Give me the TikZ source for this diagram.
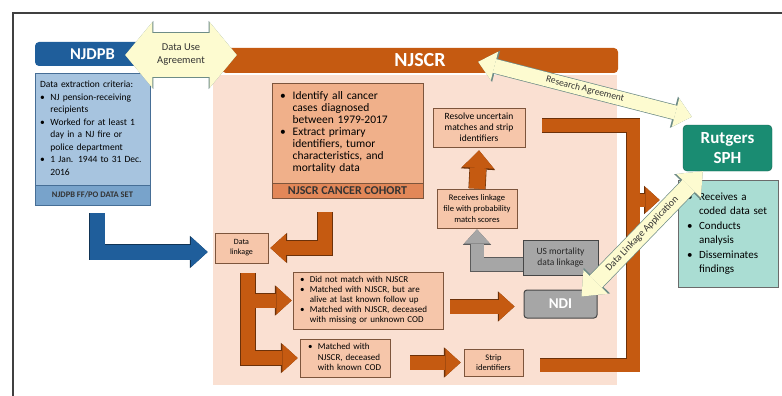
\documentclass[tikz,border=0pt]{standalone}
\usepackage{fontspec}
\setmainfont{Carlito}
\usetikzlibrary{arrows.meta,calc}

\definecolor{scrorange}{RGB}{197,90,17}
\definecolor{scrpink}{RGB}{250,224,210}
\definecolor{boxsalmon}{RGB}{246,198,170}
\definecolor{cohortfill}{RGB}{240,176,138}
\definecolor{cohortband}{RGB}{226,135,88}
\definecolor{boxedge}{RGB}{125,85,60}
\definecolor{dpbblue}{RGB}{31,94,155}
\definecolor{dpbfill}{RGB}{167,196,223}
\definecolor{dpbband}{RGB}{120,163,203}
\definecolor{dpbedge}{RGB}{70,110,150}
\definecolor{ndigray}{RGB}{166,166,166}
\definecolor{grayedge}{RGB}{70,70,70}
\definecolor{sphteal}{RGB}{26,140,114}
\definecolor{sphfill}{RGB}{170,221,211}
\definecolor{agreefill}{RGB}{253,251,208}
\definecolor{agreeedge}{RGB}{110,140,135}

\newcommand{\bul}{\makebox[1.1em][l]{\textbullet}}
\newcommand{\blist}[1]{\begin{tabular}{@{}l@{}l@{}}#1\end{tabular}}

\tikzset{
  regionbox/.style={draw=boxedge, line width=0.7pt, inner sep=0pt},
  stepnote/.style={regionbox, fill=boxsalmon, align=center},
  graynote/.style={draw=grayedge, fill=ndigray, line width=1pt, align=center, inner sep=0pt},
  fatarrow/.style 2 args={draw=#2, line width=#1, line join=miter,
    -{Triangle[length=0pt 1.1, width=0pt 2, line width=0pt]},
    preaction={draw=#2!55!black, line width=#1+1.2pt,
      -{Triangle[length=0pt 1.1, width=0pt 2, line width=0pt]}}},
  fatline/.style={draw=scrorange, line width=#1, line join=miter,
    preaction={draw=scrorange!55!black, line width=#1+1.2pt}},
  agree/.style n args={3}{draw=agreefill, line width=#1,
    {Triangle[length=0pt #2, width=0pt #3, line width=0pt]}-{Triangle[length=0pt #2, width=0pt #3, line width=0pt]},
    preaction={draw=agreeedge, line width=#1+1.4pt,
      {Triangle[length=0pt #2, width=0pt #3, line width=0pt]}-{Triangle[length=0pt #2, width=0pt #3, line width=0pt]}}},
}

\begin{document}
\begin{tikzpicture}[x=1pt, y=-1pt]
\useasboundingbox (0,0) rectangle (782,396);
\draw[line width=1.2pt, black!75] (13,396) -- (13,13) -- (782,13);

% registry area
\node[fill=scrpink, minimum width=404pt, minimum height=310pt, inner sep=0pt] (scrarea) at (415,230) {};
\node[fill=scrorange, rounded corners=4pt, minimum width=396pt, minimum height=25pt, inner sep=0pt,
  text=white, font=\bfseries\fontsize{20}{20}\selectfont] (njscr) at (420,60.5) {NJSCR};

% pension board
\node[fill=dpbblue, rounded corners=4pt, minimum width=115pt, minimum height=24pt, inner sep=0pt,
  text=white, font=\bfseries\fontsize{16.5}{17}\selectfont] (njdpb) at (92.5,54) {NJDPB};
\node[draw=dpbedge, fill=dpbfill, minimum width=115pt, minimum height=112pt, inner xsep=5pt, inner ysep=0pt,
  text width=105pt, align=left, font=\fontsize{9.5}{12.5}\selectfont] (criteria) at (92.5,129)
  {\blist{\multicolumn{2}{@{}l@{}}{Data extraction criteria:}\\ \bul & NJ pension-receiving\\ & recipients\\
   \bul & Worked for at least 1\\ & day in a NJ fire or\\ & police department\\ \bul & 1 Jan. 1944 to 31 Dec.\\ & 2016}};
\node[draw=dpbedge, fill=dpbband, minimum width=115pt, minimum height=20pt, inner sep=0pt,
  font=\bfseries\fontsize{8.5}{9}\selectfont, text=black!80] (dataset) at (92.5,195) {NJDPB FF/PO DATA SET};

% cohort
\node[regionbox, fill=cohortfill, minimum width=151pt, minimum height=100pt, inner xsep=8pt,
  text width=135pt, align=left, font=\fontsize{11.5}{12}\selectfont] (cohort) at (347.5,133)
  {\blist{\bul & Identify all cancer\\ & cases diagnosed\\ & between 1979-2017\\ \bul & Extract primary\\
   & identifiers, tumor\\ & characteristics, and\\ & mortality data}};
\node[regionbox, fill=cohortband, minimum width=151pt, minimum height=15pt,
  font=\bfseries\fontsize{12}{12}\selectfont, text=black!80] (cohortlbl) at (347.5,190.5) {NJSCR CANCER COHORT};

% linkage steps
\node[stepnote, minimum width=92pt, minimum height=39pt, font=\fontsize{9.5}{11}\selectfont] (resolve) at (479,127.5)
  {Resolve uncertain\\matches and strip\\identifiers};
\node[stepnote, minimum width=80pt, minimum height=39pt, font=\fontsize{8.5}{11}\selectfont] (link) at (477,208.5)
  {Receives linkage\\file with probability\\match scores};
\node[graynote, minimum width=75pt, minimum height=35pt, font=\fontsize{9.5}{11}\selectfont, text=black!85] (usmort) at (560.5,257.5)
  {US mortality\\data linkage};
\node[graynote, rounded corners=3pt, minimum width=73pt, minimum height=28pt,
  font=\bfseries\fontsize{15}{15}\selectfont, text=white] (ndi) at (560.5,304) {NDI};
\node[stepnote, minimum width=53pt, minimum height=30pt, font=\fontsize{8}{10}\selectfont] (datalink) at (241.5,248) {Data\\linkage};
\node[stepnote, minimum width=150pt, minimum height=57pt, inner xsep=7pt, text width=136pt, align=left,
  font=\fontsize{9}{10}\selectfont] (nomatch) at (368,300.5)
  {\blist{\bul & Did not match with NJSCR\\ \bul & Matched with NJSCR, but are\\ & alive at last known follow up\\
   \bul & Matched with NJSCR, deceased\\ & with missing or unknown COD}};
\node[stepnote, minimum width=90pt, minimum height=38pt, inner xsep=8pt, text width=74pt, align=left,
  font=\fontsize{9}{10.5}\selectfont] (knowncod) at (345,358)
  {\blist{\bul & Matched with\\ & NJSCR, deceased\\ & with known COD}};
\node[stepnote, minimum width=59pt, minimum height=27pt, font=\fontsize{8.5}{10}\selectfont] (strip) at (493.5,362.5) {Strip\\identifiers};

% school of public health
\node[fill=sphteal, draw=sphteal!70!black, rounded corners=4pt, minimum width=89pt, minimum height=46pt, inner sep=0pt,
  align=center, text=white, font=\bfseries\fontsize{17}{20}\selectfont] (rutgers) at (727.5,148) {Rutgers\\SPH};
\node[draw=grayedge!80, fill=sphfill, line width=0.7pt, minimum width=100pt, minimum height=107pt, inner xsep=9pt,
  text width=82pt, align=left, font=\fontsize{11}{14.5}\selectfont] (findings) at (728,233.5)
  {\blist{\bul & Receives a\\ & coded data set\\ \bul & Conducts\\ & analysis\\ \bul & Disseminates\\ & findings}};

% flows
\coordinate (merge) at (633,200);
\draw[fatarrow={15pt}{dpbblue}] ([xshift=4.5pt,yshift=-8pt]dataset.south) |- ([xshift=-7pt,yshift=-4pt]datalink.west);
\draw[fatarrow={14pt}{scrorange}] ([xshift=-22.5pt,yshift=-14pt]cohortlbl.south) |- ([xshift=2pt]datalink.east);
\draw[fatarrow={14pt}{scrorange}] ([xshift=6.5pt,yshift=-10pt]datalink.south) |- ([xshift=-2pt]knowncod.west);
\draw[fatarrow={14pt}{scrorange}] ([xshift=13.5pt]datalink.south |- nomatch.west) -- ([xshift=-1pt]nomatch.west);
\draw[fatarrow={14pt}{scrorange}] ([xshift=7pt,yshift=-6pt]nomatch.east) -- ([xshift=-9pt,yshift=-6pt]nomatch.east -| ndi.west);
\draw[fatarrow={14pt}{scrorange}] ([xshift=20pt]knowncod.east |- strip.west) -- ([xshift=-3pt]strip.west);
\draw[fatarrow={16pt}{scrorange}] (link.north) -- ([yshift=-3pt]resolve.south);
\draw[fatarrow={13pt}{ndigray}] ([yshift=-7pt]usmort.west) -| ([yshift=-1pt]link.south);
\draw[fatline=13pt] ([xshift=17pt,yshift=2pt]resolve.east) -| (merge) |- ([xshift=17pt,yshift=-2.5pt]strip.east);
\draw[fatarrow={13pt}{scrorange}] ([xshift=6.5pt]merge) -- ([xshift=-18pt]merge -| findings.west);

% agreements
\draw[agree={44pt}{.62}{1.5}] ([xshift=-25pt,yshift=-1pt]njdpb.east) -- ([xshift=15pt,yshift=-1pt]njdpb.east -| njscr.west)
  node[midway, align=center, text=black!80, font=\fontsize{10.5}{13}\selectfont] {Data Use\\Agreement};
\draw[agree={14pt}{1.2}{2.1}] ([xshift=-140pt,yshift=-14pt]njscr.north east) -- ([xshift=9pt,yshift=8pt]rutgers.north west)
  node[midway, sloped, text=black!80, font=\fontsize{9.5}{10}\selectfont] {Research Agreement};
\draw[agree={17pt}{1.2}{2}] ([xshift=-16pt,yshift=-7pt]ndi.north east) -- ([xshift=20pt]rutgers.south west)
  node[midway, sloped, text=black!80, font=\fontsize{10}{10}\selectfont] {Data Linkage Application};
\end{tikzpicture}
\end{document}
